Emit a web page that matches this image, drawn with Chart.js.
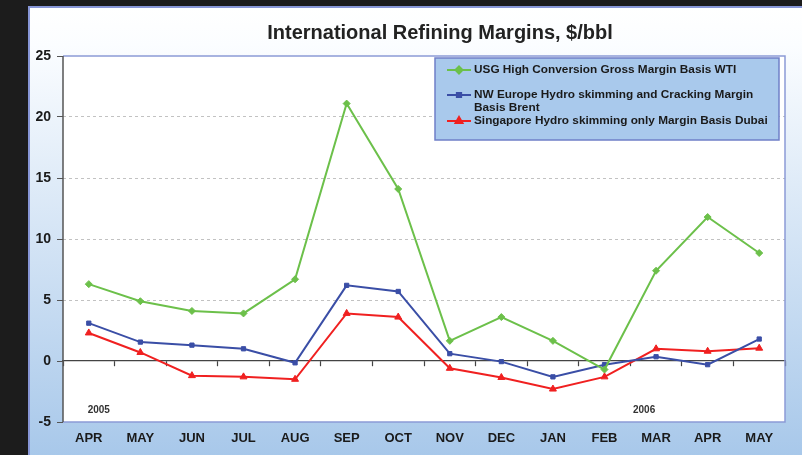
<!DOCTYPE html>
<html lang="en">
<head>
  <meta charset="UTF-8">
  <title>International Refining Margins</title>
  <script src="https://cdn.jsdelivr.net/npm/chart.js"></script>
  <style>
    html, body { margin: 0; padding: 0; width: 802px; height: 455px; overflow: hidden; background: #1c1c1c; }
    .frame {
      position: absolute; left: 28px; top: 6px; width: 860px; height: 470px;
      box-sizing: border-box; border: 2px solid #8796d6;
      background: linear-gradient(to bottom, #ffffff 0%, #fbfdff 8%, #a8c8ea 96%);
    }
    .chart-box { position: absolute; left: 28px; top: 6px; width: 824px; height: 449px; }
  </style>
</head>
<body>
  <div class="frame"></div>
  <div class="chart-box"><canvas id="marginChart"></canvas></div>

  <script>
    // months, April 2005 .. May 2006
    const months = ['APR', 'MAY', 'JUN', 'JUL', 'AUG', 'SEP', 'OCT', 'NOV', 'DEC', 'JAN', 'FEB', 'MAR', 'APR', 'MAY'];

    const usgWti = [6.3, 4.9, 4.1, 3.9, 6.7, 21.1, 14.1, 1.65, 3.6, 1.65, -0.7, 7.4, 11.8, 8.85];
    const nweBrent = [3.1, 1.55, 1.3, 1.0, -0.15, 6.2, 5.7, 0.6, -0.05, -1.3, -0.3, 0.35, -0.3, 1.8];
    const singDubai = [2.3, 0.7, -1.2, -1.3, -1.5, 3.9, 3.6, -0.6, -1.35, -2.3, -1.3, 1.0, 0.8, 1.05];

    const seriesNames = [
      ['USG High Conversion Gross Margin Basis WTI'],
      ['NW Europe Hydro skimming and Cracking Margin', 'Basis Brent'],
      ['Singapore Hydro skimming only Margin Basis Dubai']
    ];

    const yTicks = [-5, 0, 5, 10, 15, 20, 25];
    const yearLabels = ['2005', '2006'];
    const yearStart = [0, 11];

    const FONT = '"Liberation Sans", Arial, sans-serif';

    // white plot area, left axis line and thin blue frame
    const plotFrame = {
      id: 'plotFrame',
      beforeDraw(chart) {
        const { ctx, chartArea: a } = chart;
        ctx.save();
        ctx.fillStyle = '#ffffff';
        ctx.fillRect(a.left, a.top, a.right - a.left, a.bottom - a.top);
        ctx.restore();
      },
      beforeDatasetsDraw(chart) {
        const { ctx, chartArea: a } = chart;
        ctx.save();
        ctx.strokeStyle = '#8c9ad6';
        ctx.lineWidth = 1.5;
        ctx.beginPath();
        ctx.moveTo(a.left, a.top);
        ctx.lineTo(a.right, a.top);
        ctx.lineTo(a.right, a.bottom);
        ctx.lineTo(a.left, a.bottom);
        ctx.stroke();
        ctx.strokeStyle = '#555';
        ctx.beginPath();
        ctx.moveTo(a.left, a.top);
        ctx.lineTo(a.left, a.bottom);
        ctx.stroke();

        // year markers
        const xs = chart.scales.x, ys = chart.scales.y;
        const shift = [10, -12];
        ctx.fillStyle = '#333';
        ctx.font = 'bold 10px ' + FONT;
        ctx.textAlign = 'center';
        ctx.textBaseline = 'middle';
        yearLabels.forEach((t, i) => {
          ctx.fillText(t, xs.getPixelForValue(yearStart[i]) + shift[i], ys.getPixelForValue(-4));
        });
        ctx.restore();
      }
    };

    // boxed legend in the upper right of the plot
    const boxLegend = {
      id: 'boxLegend',
      afterDatasetsDraw(chart) {
        const { ctx, chartArea: a } = chart;
        const right = a.right - 6, top = a.top + 2;
        const w = 344, h = 82, left = right - w;
        ctx.save();
        ctx.fillStyle = '#a9c9ec';
        ctx.strokeStyle = '#6f7fc8';
        ctx.lineWidth = 1.5;
        ctx.fillRect(left, top, w, h);
        ctx.strokeRect(left, top, w, h);

        const rowY = [12, 37, 63];
        ctx.font = 'bold 11.8px ' + FONT;
        ctx.textBaseline = 'middle';
        ctx.textAlign = 'left';
        chart.data.datasets.forEach((ds, i) => {
          const y = top + rowY[i];
          ctx.strokeStyle = ds.borderColor;
          ctx.lineWidth = 2;
          ctx.beginPath();
          ctx.moveTo(left + 12, y);
          ctx.lineTo(left + 36, y);
          ctx.stroke();
          Chart.helpers.drawPoint(ctx, {
            pointStyle: ds.pointStyle, radius: ds.pointRadius, borderWidth: 1, rotation: 0
          }, left + 24, y);
          ctx.fillStyle = ds.borderColor;
          ctx.fill();
          ctx.fillStyle = '#1a1a1a';
          ds.label.forEach((line, k) => ctx.fillText(line, left + 39, y + k * 13));
        });
        ctx.restore();
      }
    };

    const makeSet = (label, data, color, style, r) => ({
      label, data,
      borderColor: color, backgroundColor: color,
      borderWidth: 2, pointStyle: style, pointRadius: r,
      pointBorderWidth: 1, pointBorderColor: color, tension: 0
    });

    new Chart(document.getElementById('marginChart'), {
      type: 'line',
      data: {
        labels: months,
        datasets: [
          makeSet(seriesNames[0], usgWti, '#6cc04a', 'rectRot', 3.5),
          makeSet(seriesNames[1], nweBrent, '#3a4ea6', 'rect', 3),
          makeSet(seriesNames[2], singDubai, '#f02020', 'triangle', 4)
        ]
      },
      options: {
        responsive: true,
        maintainAspectRatio: false,
        animation: false,
        layout: { padding: { left: 0, right: 0, top: 0, bottom: 9 } },
        plugins: {
          legend: { display: false },
          tooltip: { enabled: false },
          title: {
            display: true,
            text: 'International Refining Margins, $/bbl',
            color: '#222',
            font: { family: FONT, size: 20, weight: 'bold' },
            padding: { top: 15, bottom: 11 }
          }
        },
        scales: {
          x: {
            type: 'category',
            offset: true,
            grid: { display: false, drawTicks: false, tickLength: 0 },
            border: { display: false },
            ticks: { color: '#1a1a1a', padding: 9, maxRotation: 0, autoSkip: false,
                     font: { family: FONT, size: 13, weight: 'bold' } },
            afterFit(s) { s.height = 24; }
          },
          x2: {
            type: 'category',
            labels: months,
            offset: true,
            position: { y: 0 },
            grid: { offset: true, drawOnChartArea: false, tickLength: 5, tickColor: '#444', tickWidth: 1.2 },
            border: { display: true, color: '#444', width: 1.2 },
            ticks: { display: false }
          },
          y: {
            min: -5,
            max: 25,
            afterBuildTicks(s) { s.ticks = yTicks.map(v => ({ value: v })); },
            grid: {
              color: c => (c.tick.value > 0 && c.tick.value < 25) ? '#c2c2c2' : 'rgba(0,0,0,0)',
              lineWidth: 1,
              tickLength: 6,
              tickColor: '#555'
            },
            border: { display: false, dash: [3, 3] },
            ticks: { color: '#1a1a1a', padding: 6, font: { family: FONT, size: 14, weight: 'bold' } },
            afterFit(s) { s.width = 35; }
          },
          // empty spacer on the right so the title centres on the full frame
          yR: {
            position: 'right',
            display: true,
            grid: { display: false },
            border: { display: false },
            ticks: { display: false },
            afterFit(s) { s.width = 67; }
          }
        }
      },
      plugins: [plotFrame, boxLegend]
    });
  </script>
</body>
</html>
